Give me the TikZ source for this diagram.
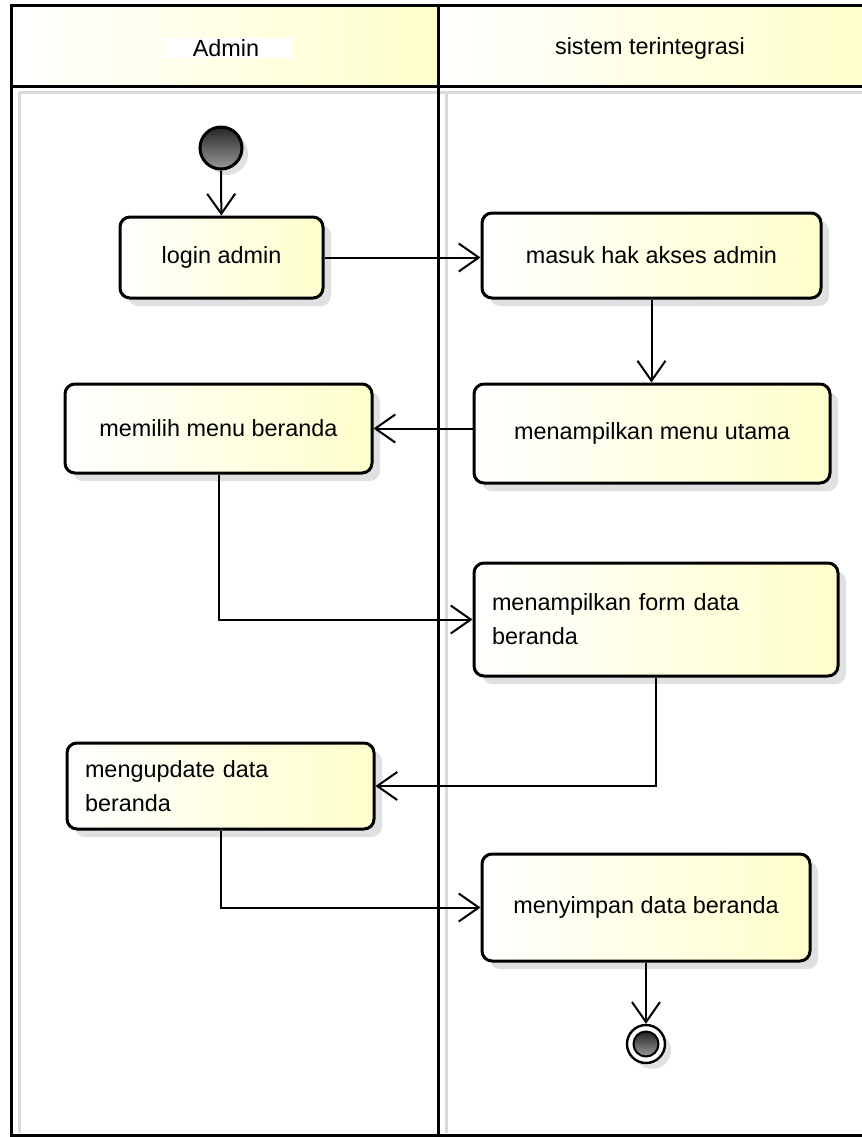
\documentclass[tikz,border=0pt]{standalone}
\usepackage{fontspec}
\setmainfont{Liberation Sans}
\usetikzlibrary{arrows.meta, shadows}

\begin{document}
\begin{tikzpicture}[
    x=0.5pt, y=-0.5pt,
    >={Straight Barb[length=10pt, width=14pt]},
    font=\fontsize{11.7}{17}\selectfont,
    activity/.style={rectangle, rounded corners=5pt, draw, line width=1.5pt, left color=white, right color=yellow!20, align=center, drop shadow={shadow xshift=4pt, shadow yshift=-4pt, fill=black, opacity=0.12}},
    lefttext/.style={align=left, inner xsep=9pt},
    lanehead/.style={draw, line width=1.5pt, left color=white, right color=yellow!20},
    laneshadow/.style={black!15, line width=1.5pt},
    flow/.style={->, line width=1pt},
]
\useasboundingbox (0,0) rectangle (862,1137);

% Swimlanes
\path[lanehead] (11,5) rectangle (438,86);
\path[lanehead] (438,5) rectangle (863,86);
\draw[laneshadow] (19,92) -- (863,92);
\draw[laneshadow] (19,92) -- (19,1133);
\draw[laneshadow] (446,92) -- (446,1133);
\draw[line width=1.5pt] (11,5) rectangle (863,1135);
\draw[line width=1.5pt] (11,86) -- (863,86);
\draw[line width=1.5pt] (438,5) -- (438,1135);

\node (laneadmin) at (226,48) [fill=white, inner ysep=0.5pt, minimum width=65pt] {Admin};
\node (lanesistem) at (650,48) {sistem terintegrasi};

% Start and end
\node (awal) at (221,148) [circle, draw, line width=1.5pt, minimum size=21pt, top color=black!85, bottom color=black!40, drop shadow={shadow xshift=3pt, shadow yshift=-3pt, fill=black, opacity=0.12}] {};
\node (akhir) at (646,1044) [circle, draw, line width=1.2pt, minimum size=19pt, fill=white, drop shadow={shadow xshift=3pt, shadow yshift=-3pt, fill=black, opacity=0.12}] {};
\node (akhirdalam) at (akhir) [circle, draw, line width=1pt, minimum size=12.5pt, top color=black!85, bottom color=black!40] {};

% Activities
\node (login) at (221.5,257.5) [activity, minimum width=101.5pt, minimum height=40.5pt] {login admin};
\node (hakakses) at (651.5,255.5) [activity, minimum width=169.5pt, minimum height=42.5pt] {masuk hak akses admin};
\node (pilihmenu) at (218.5,428.5) [activity, minimum width=153.5pt, minimum height=44.5pt] {memilih menu beranda};
\node (menuutama) at (652,433.5) [activity, minimum width=178pt, minimum height=49.5pt] {menampilkan menu utama};
\node (formdata) at (656,619.5) [activity, lefttext, text width=164pt, minimum height=56.5pt] {menampilkan form data\\beranda};
\node (updatedata) at (220.5,786) [activity, lefttext, text width=135.5pt, minimum height=43pt] {mengupdate data\\beranda};
\node (simpan) at (646,907.5) [activity, minimum width=164pt, minimum height=53.5pt] {menyimpan data beranda};

% Control flows
\draw[flow] (awal) -- (login);
\draw[flow] (login.east) -- (login.east -| hakakses.west);
\draw[flow] (hakakses) -- (hakakses |- menuutama.north);
\draw[flow] (menuutama.west |- pilihmenu) -- (pilihmenu);
\draw[flow] (pilihmenu) |- (formdata);
\draw[flow] (formdata) |- (updatedata);
\draw[flow] (updatedata) |- (simpan);
\draw[flow] (simpan) -- (akhir);

\end{tikzpicture}
\end{document}
